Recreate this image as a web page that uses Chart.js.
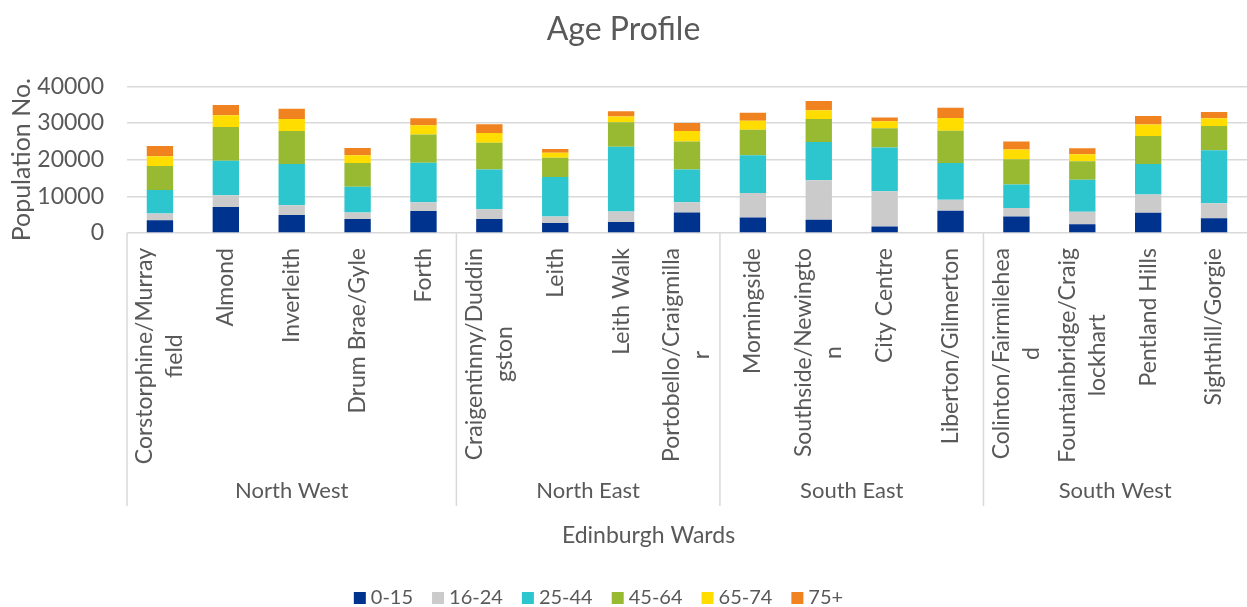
<!DOCTYPE html>
<html>
<head>
<meta charset="utf-8">
<script src="https://cdn.jsdelivr.net/npm/chart.js@4"></script>
<style>
  html, body { margin: 0; padding: 0; background: #fff; overflow: hidden; }
  #wrap { width: 1247px; height: 607px; }
</style>
</head>
<body>
<div id="wrap"><canvas id="ageChart" width="1247" height="607"></canvas></div>
<script>
// wards, with the line breaks used on the axis
const wards = [
  ['Corstorphine/Murray', 'field'], ['Almond'], ['Inverleith'], ['Drum Brae/Gyle'], ['Forth'],
  ['Craigentinny/Duddin', 'gston'], ['Leith'], ['Leith Walk'], ['Portobello/Craigmilla', 'r'],
  ['Morningside'], ['Southside/Newingto', 'n'], ['City Centre'], ['Liberton/Gilmerton'],
  ['Colinton/Fairmilehea', 'd'], ['Fountainbridge/Craig', 'lockhart'], ['Pentland Hills'], ['Sighthill/Gorgie']
];
const regions = ['North West', 'North East', 'South East', 'South West'];
const regionSizes = [5, 4, 4, 4];

const ageBands = ['0-15', '16-24', '25-44', '45-64', '65-74', '75+'];
const age0to15  = [3450, 7100, 4900, 3800, 6000, 3800, 2700, 3000, 5600, 4200, 3600, 1800, 6100, 4500, 2400, 5500, 4000];
const age16to24 = [1850, 3200, 2650, 1800, 2400, 2650, 1800, 2900, 2800, 6700, 10800, 9600, 3000, 2300, 3400, 5000, 4100];
const age25to44 = [6450, 9400, 11250, 7000, 10800, 10850, 10800, 17600, 8900, 10300, 10400, 11900, 10000, 6400, 8700, 8300, 14500];
const age45to64 = [6550, 9200, 9000, 6500, 7700, 7300, 5200, 6700, 7700, 7000, 6300, 5300, 8800, 6900, 5100, 7700, 6600];
const age65to74 = [2650, 3200, 3300, 2100, 2500, 2700, 1400, 1600, 2800, 2400, 2400, 1900, 3500, 2700, 1900, 3100, 2100];
const age75plus = [2800, 2800, 2800, 2000, 1900, 2400, 1000, 1400, 2200, 2200, 2500, 1000, 2800, 2200, 1600, 2300, 1700];

const yTicks = [0, 5000, 10000, 15000, 20000, 25000, 30000, 35000, 40000];

const bandColours = ['#00338D', '#CBCBCB', '#2DC6CF', '#98BA33', '#FFDD00', '#F08320'];
const seriesValues = [age0to15, age16to24, age25to44, age45to64, age65to74, age75plus];

const textColour = '#595959';
const lineColour = '#D9D9D9';
Chart.defaults.font.family = 'Lato, "Open Sans", sans-serif';
Chart.defaults.color = textColour;

// category labels, region brackets, axis title and legend under the plot
const wardAxis = {
  id: 'wardAxis',
  afterDraw(chart) {
    const ctx = chart.ctx;
    const x = chart.scales.x;
    const area = chart.chartArea;
    const base = area.bottom;
    const labelTop = base + 15;
    const lineH = 30;

    ctx.save();
    ctx.fillStyle = textColour;

    // rotated ward names, wrapped lines centred on each other
    ctx.font = '23px Lato';
    ctx.textBaseline = 'middle';
    ctx.textAlign = 'center';
    wards.forEach((lines, i) => {
      const cx = x.getPixelForValue(i);
      const longest = Math.max(...lines.map(l => ctx.measureText(l).width));
      ctx.save();
      ctx.translate(cx, labelTop + longest / 2);
      ctx.rotate(-Math.PI / 2);
      lines.forEach((l, k) => {
        const off = (k - (lines.length - 1) / 2) * lineH;
        ctx.fillText(l, 0, off);
      });
      ctx.restore();
    });

    // region separators and names
    const sepBottom = base + 273;
    ctx.strokeStyle = lineColour;
    ctx.lineWidth = 1.5;
    let start = 0;
    const edges = [area.left];
    regionSizes.forEach(n => {
      start += n;
      edges.push(start < wards.length
        ? (x.getPixelForValue(start - 1) + x.getPixelForValue(start)) / 2
        : area.right);
    });
    edges.slice(0, -1).forEach(ex => {
      ctx.beginPath();
      ctx.moveTo(ex, base);
      ctx.lineTo(ex, sepBottom);
      ctx.stroke();
    });
    ctx.font = '22px Lato';
    regions.forEach((r, i) => {
      ctx.fillText(r, (edges[i] + edges[i + 1]) / 2, base + 258);
    });

    // x axis title
    ctx.font = '23px Lato';
    ctx.fillText('Edinburgh Wards', chart.width / 2 + 25, base + 303);

    // legend
    ctx.font = '20px Lato';
    const box = 12, gap = 5, itemGap = 19;
    const widths = ageBands.map(b => box + gap + ctx.measureText(b).width);
    const total = widths.reduce((a, b) => a + b, 0) + itemGap * (ageBands.length - 1);
    let lx = chart.width / 2 - 25 - total / 2;
    const ly = chart.height - 9;
    ctx.textAlign = 'left';
    ageBands.forEach((b, i) => {
      ctx.fillStyle = bandColours[i];
      ctx.fillRect(lx, ly - box / 2, box, box);
      ctx.fillStyle = textColour;
      ctx.fillText(b, lx + box + gap, ly);
      lx += widths[i] + itemGap;
    });
    ctx.restore();
  }
};

new Chart(document.getElementById('ageChart'), {
  type: 'bar',
  data: {
    labels: wards.map(w => w.join('')),
    datasets: ageBands.map((band, i) => ({
      label: band,
      data: seriesValues[i],
      backgroundColor: bandColours[i],
      borderWidth: 0,
      categoryPercentage: 1,
      barPercentage: 0.4
    }))
  },
  options: {
    responsive: false,
    animation: false,
    layout: { padding: { left: 0, right: 0, top: 0, bottom: 366 } },
    plugins: {
      legend: { display: false },
      tooltip: { enabled: false },
      title: {
        display: true,
        text: 'Age Profile',
        color: textColour,
        font: { size: 32, weight: 'normal' },
        padding: { top: 10, bottom: 38 }
      }
    },
    scales: {
      x: {
        stacked: true,
        ticks: { display: false },
        grid: { display: false },
        border: { display: false }
      },
      y: {
        stacked: true,
        min: 0,
        max: 40000,
        afterBuildTicks: axis => { axis.ticks = yTicks.map(v => ({ value: v })); },
        afterFit: axis => { axis.width = 127; },
        ticks: {
          font: { size: 23 },
          color: textColour,
          padding: 23,
          callback: v => String(v)
        },
        grid: { color: lineColour, lineWidth: 1.5, drawTicks: false },
        border: { display: false },
        title: {
          display: true,
          text: 'Population No.',
          color: textColour,
          font: { size: 25 },
          padding: { top: 7, bottom: 0 }
        }
      }
    }
  },
  plugins: [wardAxis]
});
</script>
</body>
</html>
